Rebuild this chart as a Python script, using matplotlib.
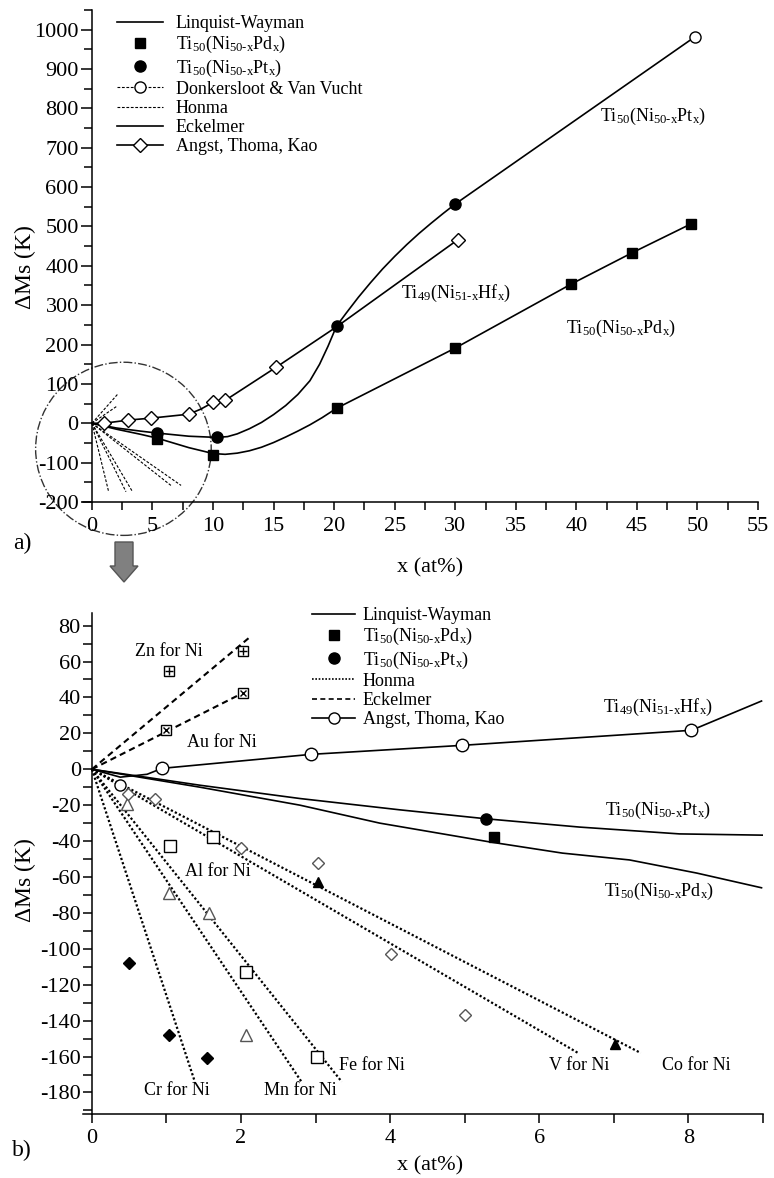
import numpy as np
import matplotlib
matplotlib.use('Agg')
from matplotlib import pyplot as plt
from matplotlib.ticker import MultipleLocator
from matplotlib.patches import Ellipse, Polygon

plt.rcParams['font.family'] = 'Liberation Serif'
plt.rcParams['mathtext.fontset'] = 'custom'
plt.rcParams['mathtext.rm'] = 'Liberation Serif'
plt.rcParams['mathtext.it'] = 'Liberation Serif:italic'
plt.rcParams['axes.unicode_minus'] = False

PD = r'Ti$_{\mathregular{50}}$(Ni$_{\mathregular{50\text{-}x}}$Pd$_{\mathregular{x}}$)'
PT = r'Ti$_{\mathregular{50}}$(Ni$_{\mathregular{50\text{-}x}}$Pt$_{\mathregular{x}}$)'
HF = r'Ti$_{\mathregular{49}}$(Ni$_{\mathregular{51\text{-}x}}$Hf$_{\mathregular{x}}$)'

# ---- panel a: measured points
a_pd_x = [5.4, 10.0, 20.2, 30.0, 39.6, 44.6, 49.5]
a_pd_y = [-41, -80, 38, 191, 354, 433, 507]
a_pt_x = [5.4, 10.3, 20.2, 30.0]
a_pt_y = [-25, -36, 247, 557]
a_dvv_x = [49.8]
a_dvv_y = [982]
a_hf_x = [1.0, 3.0, 4.9, 8.0, 10.0, 11.0, 15.2, 30.2]
a_hf_y = [0, 8, 13, 23, 53, 58, 142, 466]

# ---- panel a: curves
a_pd_cx = [0, 2, 4, 5.4, 8, 10, 11, 12, 13, 14, 15, 16, 17, 18, 19, 20.2, 30, 39.6, 44.6, 49.5]
a_pd_cy = [0, -15, -28, -38, -62, -77, -79, -76, -70, -61, -49, -35, -20, -4, 14, 38, 191, 354, 433, 507]
a_pt_cx = [0, 2, 4, 5.4, 8, 10.3, 11.2, 12, 13, 14, 15, 16, 17, 18, 18.8, 19.5, 20.2,
           21, 22, 23, 24, 25, 26, 27, 28, 29, 30, 49.8]
a_pt_cy = [0, -12, -20, -25, -33, -36, -34, -27, -14, 2, 22, 45, 73, 108, 150, 196, 247,
           280, 320, 357, 392, 424, 454, 482, 508, 533, 557, 982]
a_hf_cx = [0, 1, 3, 4.9, 8, 9, 10, 11, 15.2, 20.2, 30.2]
a_hf_cy = [0, 0, 8, 13, 23, 36, 53, 58, 142, 245, 466]

# ---- panel b: curves
b_pd_cx = [0, 1.45, 2.79, 3.86, 5.34, 6.31, 7.21, 8.11, 8.98]
b_pd_cy = [0, -10, -20, -30, -40.5, -46.7, -50.5, -57.8, -66]
b_pt_cx = [0, 1.45, 2.79, 4.13, 5.29, 6.54, 7.88, 9.0]
b_pt_cy = [0, -8.9, -16.3, -22.6, -27.6, -32.2, -36, -36.7]
b_hf_cx = [0, 0.38, 0.74, 0.94, 2.94, 4.96, 8.04, 8.98]
b_hf_cy = [0, -4.4, -2.8, 0.5, 8.3, 13.3, 21.7, 38]
b_hf_x = [0.94, 2.94, 4.96, 8.04]
b_hf_y = [0.5, 8.3, 13.3, 21.7]
b_pd_x = [5.39]
b_pd_y = [-37.8]
b_pt_x = [5.29]
b_pt_y = [-27.6]

# Honma (dotted) lines from origin: Cr, Mn, Fe, V, Co
honma_x = [1.38, 2.81, 3.35, 6.52, 7.36]
honma_y = [-174, -174, -174, -158, -158]
# Eckelmer (dashed) lines from origin: Zn, Au
eck_x = [2.13, 2.03]
eck_y = [74, 42.6]

# substitution data points
zn_x = [1.03, 2.03]
zn_y = [54.5, 66]
au_x = [0.99, 2.03]
au_y = [21.7, 42.6]
cr_x = [0.50, 1.03, 1.55]
cr_y = [-108, -148, -161]
mn_x = [0.47, 1.03, 1.57, 2.06]
mn_y = [-19.5, -69, -80, -148]
fe_x = [1.05, 1.63, 2.06, 3.02]
fe_y = [-43, -38, -113, -160]
v_x = [0.48, 0.85, 2.0, 3.03, 4.01, 5.01]
v_y = [-13.5, -16.5, -44, -52, -103, -137]
co_x = [3.03, 7.02]
co_y = [-63, -153]
circ_x = [0.38]
circ_y = [-8.5]

fig = plt.figure(figsize=(7.74, 11.78), dpi=100)
ax1 = fig.add_axes([0.1072, 0.5739, 0.9793 - 0.1072, 0.9915 - 0.5739])
ax2 = fig.add_axes([0.1072, 0.0543, 0.9858 - 0.1072, 0.4796 - 0.0543])

lw = 1.2
dot = (0, (1, 1))
fine = (0, (2.5, 1.5))
tsize = 16

# ---------------- panel a
for xe, ye in zip(honma_x, honma_y):
    ax1.plot([0, xe], [0, ye], color='k', lw=0.8, linestyle=fine)
for xe, ye in zip(eck_x, eck_y):
    ax1.plot([0, xe], [0, ye], color='k', lw=0.8, linestyle=fine)
ax1.plot(a_pd_cx, a_pd_cy, color='k', lw=lw)
ax1.plot(a_pt_cx, a_pt_cy, color='k', lw=lw)
ax1.plot(a_hf_cx, a_hf_cy, color='k', lw=lw)
ax1.plot(a_pd_x, a_pd_y, 's', color='k', ms=7, linestyle='')
ax1.plot(a_pt_x, a_pt_y, 'o', color='k', ms=8, linestyle='')
ax1.plot(a_dvv_x, a_dvv_y, 'o', mfc='white', mec='k', ms=8, linestyle='')
ax1.plot(a_hf_x, a_hf_y, 'D', mfc='white', mec='k', ms=7, linestyle='')

ax1.text(46.3, 779, PT, fontsize=13, ha='center', va='center')
ax1.text(30.1, 331, HF, fontsize=13, ha='center', va='center')
ax1.text(43.7, 242, PD, fontsize=13, ha='center', va='center')

ax1.add_patch(Ellipse((2.6, -65), 14.5, 440, fill=False, edgecolor='#333333',
                      lw=1.0, linestyle='-.', clip_on=False))

ax1.plot([], [], color='k', lw=lw, label='Linquist-Wayman')
ax1.plot([], [], 's', color='k', ms=7, label=PD)
ax1.plot([], [], 'o', color='k', ms=8, label=PT)
ax1.plot([], [], color='k', lw=0.8, linestyle=fine, marker='o', mfc='white', mec='k',
         ms=8, label='Donkersloot & Van Vucht')
ax1.plot([], [], color='k', lw=0.8, linestyle=fine, label='Honma')
ax1.plot([], [], color='k', lw=lw, label='Eckelmer')
ax1.plot([], [], color='k', lw=lw, marker='D', mfc='white', mec='k', ms=7,
         label='Angst, Thoma, Kao')
ax1.legend(loc='upper left', bbox_to_anchor=(117 / 774, 1 - 15 / 1178),
           bbox_transform=fig.transFigure, frameon=False, fontsize=13,
           borderpad=0, borderaxespad=0, handlelength=2.55, handletextpad=0.7,
           labelspacing=0.12)

ax1.set_xlim(-0.74, 55)
ax1.set_ylim(-200, 1050)
ax1.set_xticks(range(0, 56, 5))
ax1.xaxis.set_minor_locator(MultipleLocator(2.5))
ax1.set_yticks(range(-200, 1001, 100))
ax1.yaxis.set_minor_locator(MultipleLocator(50))
ax1.tick_params(axis='y', which='major', length=8, width=1.1, pad=1.5, labelsize=tsize)
ax1.tick_params(axis='y', which='minor', length=6, width=1.1)
ax1.tick_params(axis='x', which='both', length=5.5, width=1.1, pad=5, labelsize=tsize)

# ---------------- panel b
for xe, ye in zip(honma_x, honma_y):
    ax2.plot([0, xe], [0, ye], color='k', lw=1.6, linestyle=dot)
for xe, ye in zip(eck_x, eck_y):
    ax2.plot([0, xe], [0, ye], color='k', lw=1.5, linestyle=(0, (3, 2)))
ax2.plot(b_pd_cx, b_pd_cy, color='k', lw=lw)
ax2.plot(b_pt_cx, b_pt_cy, color='k', lw=lw)
ax2.plot(b_hf_cx, b_hf_cy, color='k', lw=lw)
ax2.plot(b_hf_x, b_hf_y, 'o', mfc='white', mec='k', ms=9, linestyle='')
ax2.plot(b_pd_x, b_pd_y, 's', color='k', ms=7, linestyle='')
ax2.plot(b_pt_x, b_pt_y, 'o', color='k', ms=8, linestyle='')

ax2.plot(zn_x, zn_y, 's', mfc='white', mec='k', ms=7, linestyle='')
ax2.plot(zn_x, zn_y, '+', color='k', ms=6, mew=1, linestyle='')
ax2.plot(au_x, au_y, 's', mfc='white', mec='k', ms=7, linestyle='')
ax2.plot(au_x, au_y, 'x', color='k', ms=4.5, mew=1, linestyle='')
ax2.plot(cr_x, cr_y, 'D', color='k', ms=6, linestyle='')
ax2.plot(mn_x, mn_y, '^', mfc='white', mec='#555555', ms=8, linestyle='')
ax2.plot(fe_x, fe_y, 's', mfc='white', mec='k', ms=8, linestyle='')
ax2.plot(v_x, v_y, 'D', mfc='white', mec='#555555', ms=6, linestyle='')
ax2.plot(co_x, co_y, '^', color='k', ms=7, linestyle='')
ax2.plot(circ_x, circ_y, 'o', mfc='white', mec='k', ms=8, linestyle='')

notes = [('Zn for Ni', 1.03, 65.5), ('Au for Ni', 1.74, 15), ('Al for Ni', 1.69, -57),
         ('Cr for Ni', 1.14, -179), ('Mn for Ni', 2.79, -179), ('Fe for Ni', 3.75, -165),
         ('V for Ni', 6.53, -165), ('Co for Ni', 8.1, -165),
         (HF, 7.59, 34.4), (PT, 7.59, -23), (PD, 7.61, -68)]
for txt, tx, ty in notes:
    ax2.text(tx, ty, txt, fontsize=13, ha='center', va='center')

ax2.plot([], [], color='k', lw=lw, label='Linquist-Wayman')
ax2.plot([], [], 's', color='k', ms=7, label=PD)
ax2.plot([], [], 'o', color='k', ms=8, label=PT)
ax2.plot([], [], color='k', lw=1.2, linestyle=dot, label='Honma')
ax2.plot([], [], color='k', lw=1.2, linestyle=(0, (3, 2)), label='Eckelmer')
ax2.plot([], [], color='k', lw=lw, marker='o', mfc='white', mec='k', ms=8,
         label='Angst, Thoma, Kao')
ax2.legend(loc='upper left', bbox_to_anchor=(312 / 774, 1 - 607 / 1178),
           bbox_transform=fig.transFigure, frameon=False, fontsize=13,
           borderpad=0, borderaxespad=0, handlelength=2.4, handletextpad=0.4,
           labelspacing=0.12)

ax2.set_xlim(-0.12, 9)
ax2.set_ylim(-192, 87)
ax2.set_xticks([0, 2, 4, 6, 8])
ax2.xaxis.set_minor_locator(MultipleLocator(1))
ax2.set_yticks(range(-180, 81, 20))
ax2.yaxis.set_minor_locator(MultipleLocator(10))
ax2.tick_params(axis='y', which='both', length=6.5, width=1.1, pad=1.5, labelsize=tsize)
ax2.tick_params(axis='x', which='both', length=6.5, width=1.1, pad=4, labelsize=tsize)

for ax in (ax1, ax2):
    ax.spines['top'].set_visible(False)
    ax.spines['right'].set_visible(False)
    ax.spines['left'].set_position(('data', 0))
    ax.spines['left'].set_linewidth(1.1)
    ax.spines['bottom'].set_linewidth(1.1)
    ax.tick_params(which='both', direction='out')

# axis titles and panel letters
fig.text(25 / 774, 1 - 267 / 1178, r'$\Delta$Ms (K)', rotation=90, fontsize=17,
         ha='center', va='center')
fig.text(25 / 774, 1 - 880 / 1178, r'$\Delta$Ms (K)', rotation=90, fontsize=17,
         ha='center', va='center')
fig.text(430 / 774, 1 - 568 / 1178, 'x (at%)', fontsize=16, ha='center', va='center')
fig.text(430 / 774, 1 - 1166 / 1178, 'x (at%)', fontsize=16, ha='center', va='center')
fig.text(22 / 774, 1 - 543 / 1178, 'a)', fontsize=17, ha='center', va='center')
fig.text(22 / 774, 1 - 1150 / 1178, 'b)', fontsize=17, ha='center', va='center')

# grey arrow from panel a to panel b
arrow_px = [(115, 542), (133, 542), (133, 566), (138, 566), (124, 582), (110, 566), (115, 566)]
arrow = Polygon([(px / 774, 1 - py / 1178) for px, py in arrow_px], closed=True,
                facecolor='#808080', edgecolor='#555555', lw=1, transform=fig.transFigure)
fig.patches.append(arrow)

plt.savefig('out.png', dpi=100)
